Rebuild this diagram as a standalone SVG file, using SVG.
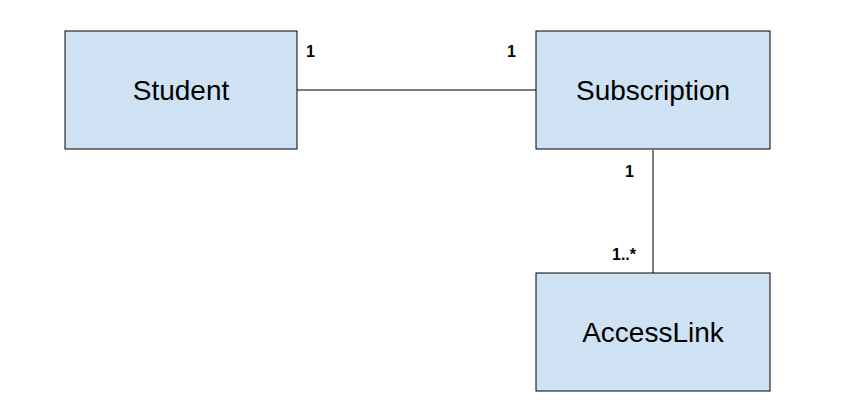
<svg xmlns="http://www.w3.org/2000/svg" width="866" height="411" viewBox="0 0 866 411">
<style>
.box{fill:#cfe2f3;stroke:#000;stroke-width:1}
.lbl{font-family:"Liberation Sans",Arial,sans-serif;font-size:28px;text-anchor:middle}
.m{font-family:"Liberation Sans",Arial,sans-serif;font-size:16px;font-weight:bold}
.c{stroke:#000;stroke-width:1;fill:none}
</style>
<rect width="866" height="411" fill="#fff"/>
<g id="connectors">
<line class="c" x1="297" y1="90" x2="536" y2="90"/>
<line class="c" x1="653" y1="150" x2="653" y2="273"/>
</g>
<g id="Student"><rect class="box" x="65" y="31" width="232" height="118"/><text class="lbl" x="181" y="100">Student</text></g>
<g id="Subscription"><rect class="box" x="536" y="31" width="234" height="118"/><text class="lbl" x="653" y="100">Subscription</text></g>
<g id="AccessLink"><rect class="box" x="536" y="273" width="234" height="118"/><text class="lbl" x="653" y="342">AccessLink</text></g>
<g id="labels">
<text class="m" x="306" y="57">1</text>
<text class="m" x="507" y="57">1</text>
<text class="m" x="625" y="177">1</text>
<text class="m" x="612" y="260">1..*</text>
</g>
</svg>
